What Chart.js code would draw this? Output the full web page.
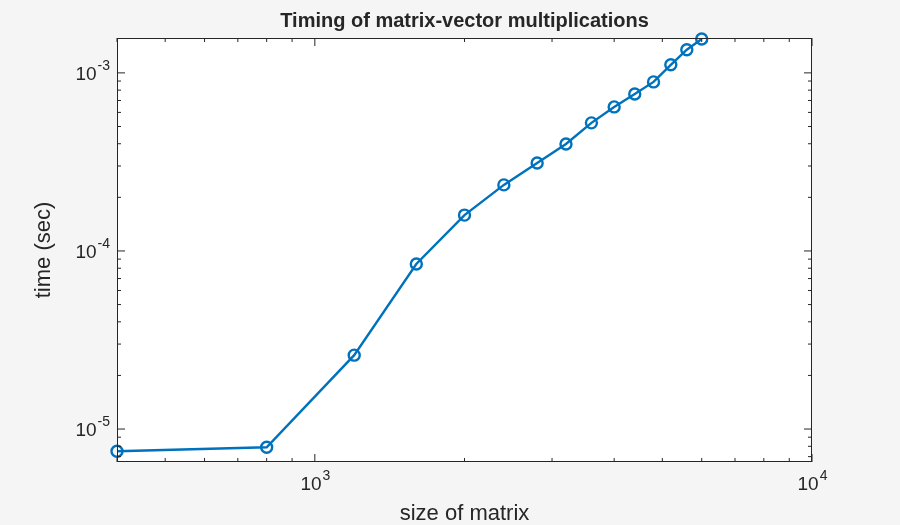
<!DOCTYPE html>
<html><head><meta charset="utf-8">
<script src="https://cdn.jsdelivr.net/npm/chart.js@4"></script>
<style>html,body{margin:0;padding:0;background:#f5f5f5}#w{width:900px;height:525px}</style>
</head><body><div id="w"><canvas id="c"></canvas></div>
<script>
const sizes=[400,800,1200,1600,2000,2400,2800,3200,3600,4000,4400,4800,5200,5600,6000];
const times=[7.5e-6,7.9e-6,2.6e-5,8.45e-5,1.59e-4,2.35e-4,3.12e-4,3.99e-4,5.24e-4,6.44e-4,7.61e-4,8.9e-4,1.11e-3,1.35e-3,1.55e-3];
const xTicks=[1e3,1e4],xTickLabels=[['10','3'],['10','4']];
const yTicks=[1e-5,1e-4,1e-3],yTickLabels=[['10','-5'],['10','-4'],['10','-3']];
const F='"Helvetica Neue",Arial,"Liberation Sans",sans-serif';
const axesPlugin={id:'ax',beforeDatasetsDraw(ch){
 const c=ch.ctx,a=ch.chartArea;
 c.save();c.fillStyle='#fff';c.fillRect(a.left,a.top,a.right-a.left,a.bottom-a.top);c.restore();},
 afterDraw(ch){
 const c=ch.ctx,a=ch.chartArea,x=ch.scales.x,y=ch.scales.y;
 c.save();c.strokeStyle='#262626';c.lineWidth=1;
 c.strokeRect(a.left+0.5,a.top+0.5,a.right-a.left-1,a.bottom-a.top-1);
 c.beginPath();
 for(let e=2;e<=4;e++)for(let m=1;m<10;m++){const v=m*Math.pow(10,e);if(v<x.min||v>x.max)continue;const p=x.getPixelForValue(v),L=m==1?8:4;
  c.moveTo(p,a.bottom);c.lineTo(p,a.bottom-L);c.moveTo(p,a.top);c.lineTo(p,a.top+L);}
 for(let e=-6;e<=-3;e++)for(let m=1;m<10;m++){const v=m*Math.pow(10,e);if(v<y.min||v>y.max)continue;const p=y.getPixelForValue(v),L=m==1?8:4;
  c.moveTo(a.left,p);c.lineTo(a.left+L,p);c.moveTo(a.right,p);c.lineTo(a.right-L,p);}
 c.stroke();
 c.fillStyle='#262626';
 const sup=(t,px,py,align)=>{c.font='19px '+F;const w1=c.measureText(t[0]).width;c.font='14px '+F;const w2=c.measureText(t[1]).width;
  let sx=align=='right'?px-w1-w2:px-(w1+w2)/2;c.textAlign='left';c.textBaseline='alphabetic';
  c.font='19px '+F;c.fillText(t[0],sx,py);c.font='14px '+F;c.fillText(t[1],sx+w1+1,py-10);};
 xTicks.forEach((v,i)=>sup(xTickLabels[i],x.getPixelForValue(v),a.bottom+28,'center'));
 yTicks.forEach((v,i)=>sup(yTickLabels[i],a.left-8,y.getPixelForValue(v)+7,'right'));
 c.textAlign='center';c.textBaseline='alphabetic';
 c.font='bold 20px '+F;c.fillText('Timing of matrix-vector multiplications',(a.left+a.right)/2,27);
 c.font='22px '+F;c.fillText('size of matrix',(a.left+a.right)/2,520);
 c.translate(50,(a.top+a.bottom)/2);c.rotate(-Math.PI/2);c.fillText('time (sec)',0,0);
 c.restore();}};
new Chart(document.getElementById('c'),{type:'line',
 data:{datasets:[{data:sizes.map((s,i)=>({x:s,y:times[i]})),borderColor:'#0072BD',borderWidth:2.4,
  pointRadius:5.5,pointBorderWidth:2.4,pointBackgroundColor:'rgba(0,0,0,0)',pointBorderColor:'#0072BD',clip:false,tension:0}]},
 options:{responsive:true,maintainAspectRatio:false,animation:false,
  layout:{padding:{left:117,right:88,top:38,bottom:63}},
  plugins:{legend:{display:false},tooltip:{enabled:false}},
  scales:{x:{type:'logarithmic',min:400,max:10000,display:false},
          y:{type:'logarithmic',min:6.53e-6,max:1.57e-3,display:false}}},
 plugins:[axesPlugin]});
</script></body></html>
